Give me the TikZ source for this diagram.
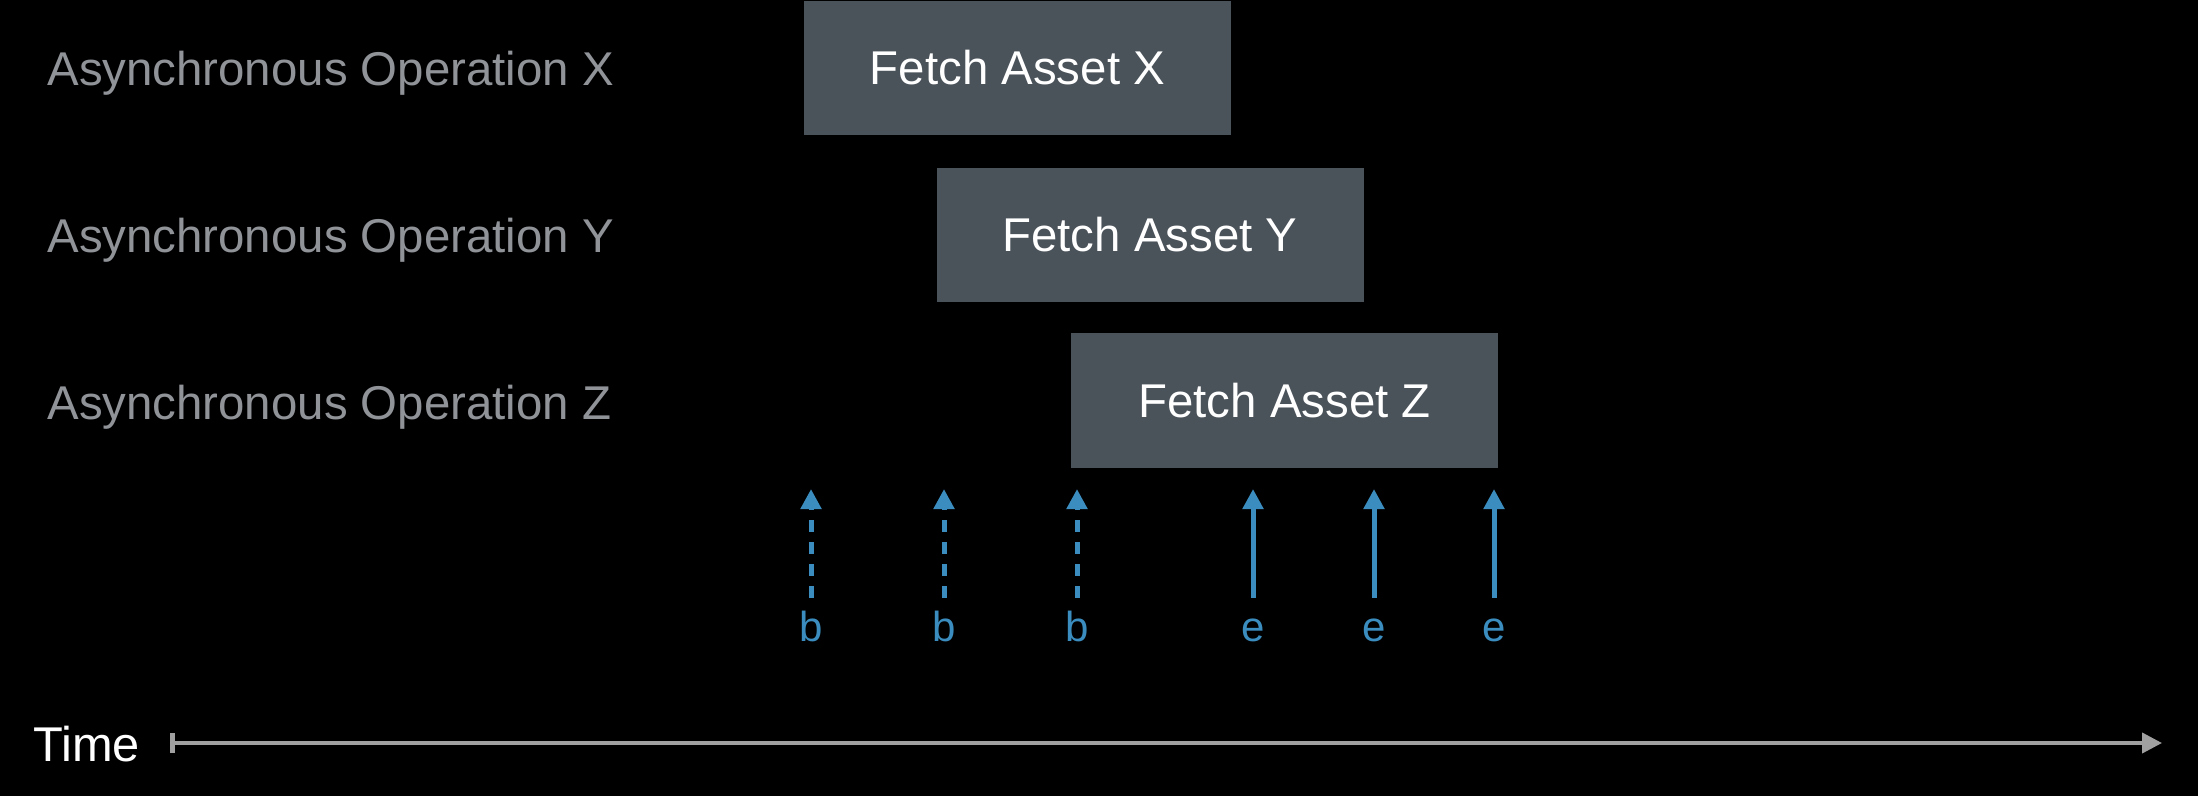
\documentclass[tikz,border=0pt]{standalone}
\usepackage{fontspec}
\setmainfont{Liberation Sans}
\usetikzlibrary{arrows.meta}
\definecolor{fondo}{HTML}{000000}
\definecolor{caja}{HTML}{4A525A}
\definecolor{gris}{HTML}{909398}
\definecolor{azul}{HTML}{3A8DBE}
\definecolor{eje}{HTML}{A0A0A0}
\tikzset{
  operacion/.style={anchor=base west, inner sep=0pt, text=gris, font=\fontsize{23.7pt}{26pt}\selectfont},
  tarea/.style={fill=caja, minimum width=213.5pt, minimum height=67pt, inner sep=0pt, text height=17pt, text depth=0pt, text=white, font=\fontsize{23.7pt}{26pt}\selectfont},
  marca/.style={anchor=base, inner xsep=0pt, inner ysep=7pt, text height=14.5pt, text depth=0pt, text=azul, font=\fontsize{21pt}{24pt}\selectfont},
  flecha/.style={azul, line width=2.5pt, -{Triangle[length=10pt,width=10pt]}},
}
\begin{document}
\begin{tikzpicture}[x=0.5pt, y=-0.5pt]
\useasboundingbox[fill=fondo] (0,0) rectangle (2198,796);
% Operaciones
\node[operacion] (opX) at (47,86) {Asynchronous Operation X};
\node[operacion] (opY) at (47,253) {Asynchronous Operation Y};
\node[operacion] (opZ) at (47,419) {Asynchronous Operation Z};
% Tareas
\node[tarea] (fetchX) at (1017.5,68) {Fetch Asset X};
\node[tarea] (fetchY) at (1150,235) {Fetch Asset Y};
\node[tarea] (fetchZ) at (1284.5,400.5) {Fetch Asset Z};
% Marcas de inicio (b)
\node[marca] (b1) at (811,641) {b};
\node[marca] (b2) at (944,641) {b};
\node[marca] (b3) at (1077,641) {b};
\coordinate (tb1) at (811,489);
\coordinate (tb2) at (944,489);
\coordinate (tb3) at (1077,489);
\draw[flecha, dash pattern=on 6pt off 5pt] (b1.north) -- (tb1);
\draw[flecha, dash pattern=on 6pt off 5pt] (b2.north) -- (tb2);
\draw[flecha, dash pattern=on 6pt off 5pt] (b3.north) -- (tb3);
% Marcas de fin (e)
\node[marca] (e1) at (1253,641) {e};
\node[marca] (e2) at (1374,641) {e};
\node[marca] (e3) at (1494,641) {e};
\coordinate (te1) at (1253,489);
\coordinate (te2) at (1374,489);
\coordinate (te3) at (1494,489);
\draw[flecha] (e1.north) -- (te1);
\draw[flecha] (e2.north) -- (te2);
\draw[flecha] (e3.north) -- (te3);
% Eje del tiempo
\node[anchor=base west, inner sep=0pt, text=white, font=\fontsize{24.4pt}{27pt}\selectfont] (tiempo) at (33,761) {Time};
\coordinate (t0) at (170,743);
\coordinate (t1) at (2162,743);
\draw[eje, line width=2pt, {Bar[width=10pt,line width=2.5pt]}-{Triangle[length=10pt,width=10pt]}] (t0) -- (t1);
\end{tikzpicture}
\end{document}
